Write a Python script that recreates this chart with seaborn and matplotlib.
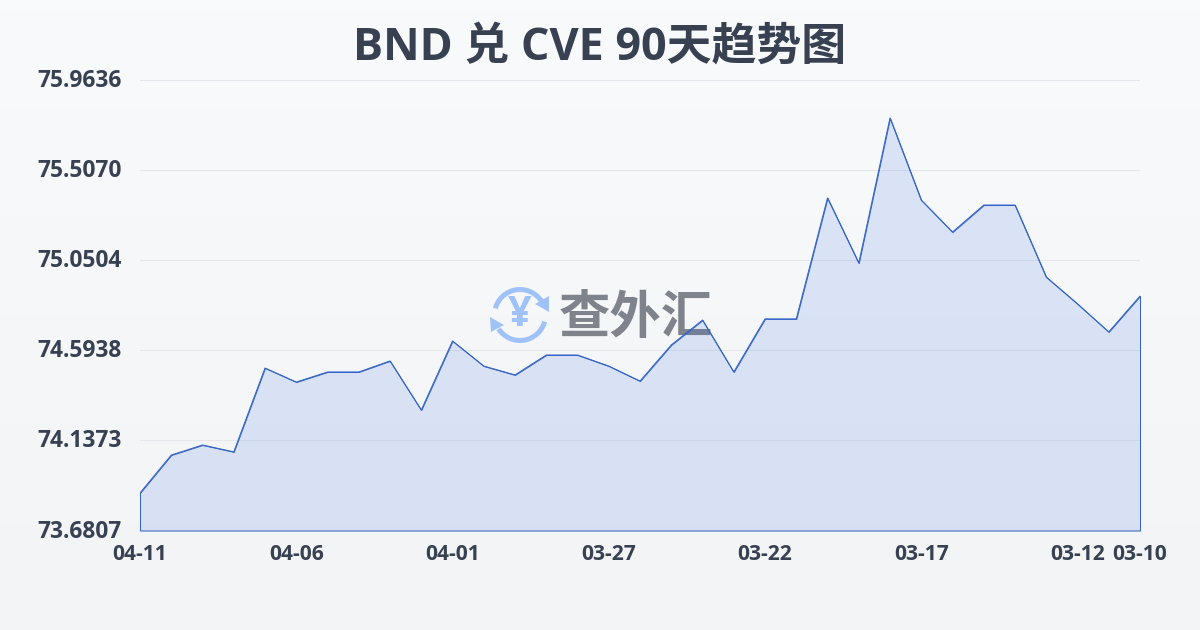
import numpy as np
import matplotlib
matplotlib.use("Agg")
import matplotlib.pyplot as plt
from matplotlib.patches import Arc, Polygon
from matplotlib.transforms import ScaledTranslation
import seaborn as sns

title = "BND 兑 CVE 90天趋势图"
values = [73.871, 74.063, 74.114, 74.079, 74.504, 74.433, 74.484, 74.484, 74.540, 74.291,
          74.641, 74.514, 74.469, 74.570, 74.570, 74.514, 74.438, 74.621, 74.747, 74.484,
          74.753, 74.753, 75.366, 75.036, 75.771, 75.355, 75.193, 75.330, 75.330, 74.965,
          74.829, 74.687, 74.869]
days = list(range(len(values)))
x_tick_days = [0, 5, 10, 15, 20, 25, 30, 32]
x_tick_labels = ["04-11", "04-06", "04-01", "03-27", "03-22", "03-17", "03-12", "03-10"]
y_ticks = [73.6807, 74.1373, 74.5938, 75.0504, 75.5070, 75.9636]
y_tick_labels = ["73.6807", "74.1373", "74.5938", "75.0504", "75.5070", "75.9636"]

sns.set_theme(style="white")
plt.rcParams['font.family'] = ['Open Sans', 'Noto Sans CJK SC', 'DejaVu Sans']

INK = "#374151"
LINE = "#3565c6"
W, H = 1200, 630
fig = plt.figure(figsize=(12, 6.3), dpi=100)

# background gradient
bg = fig.add_axes([0, 0, 1, 1], zorder=0)
bg.imshow(np.linspace(0, 1, 64).reshape(-1, 1), aspect="auto", extent=(0, W, 0, H),
          cmap=matplotlib.colors.LinearSegmentedColormap.from_list("bg", ["#f9fafc", "#f3f4f6"]))
bg.axis("off")

# watermark
wm = fig.add_axes([0, 0, 1, 1], zorder=1)
wm.set_xlim(0, W); wm.set_ylim(0, H); wm.axis("off")
BLUE = "#9fc2f9"
cx, cy = 520, H - 315
wm.add_patch(Arc((cx, cy), 51, 51, theta1=33, theta2=165, color=BLUE, lw=3.6))
wm.add_patch(Arc((cx, cy), 51, 51, theta1=213, theta2=345, color=BLUE, lw=3.6))
wm.add_patch(Polygon([(549, H-296), (549, H-312), (535, H-304)], closed=True, color=BLUE, lw=0))
wm.add_patch(Polygon([(490, H-317), (491, H-332), (504, H-325)], closed=True, color=BLUE, lw=0))
wm.text(cx, cy - 1, "¥", fontsize=30, fontweight="bold", color=BLUE, ha="center", va="center",
        family=['Open Sans'])
wm.text(636, H - 318, "查外汇", fontsize=37, fontweight="black", color="#7f838c", ha="center",
        va="center", family=['Noto Sans CJK SC'])

# main chart
ax = fig.add_axes([140/W, 1 - 530.5/H, 1000/W, 450.5/H], zorder=2)
ax.patch.set_alpha(0)
ax.fill_between(days, values, y_ticks[0], facecolor=matplotlib.colors.to_rgba("#3a70e0", 0.15),
                edgecolor=LINE, linewidth=0.75, clip_on=False, zorder=2)
sns.lineplot(x=days, y=values, ax=ax, color=LINE, linewidth=0.75, zorder=3)
ax.set_xlim(days[0], days[-1])
ax.set_ylim(y_ticks[0], y_ticks[-1])
ax.set_xlabel(""); ax.set_ylabel("")
ax.set_xticks(x_tick_days, x_tick_labels)
ax.set_yticks(y_ticks, y_tick_labels)
ax.grid(axis="y", color="#e4e7ec", linewidth=0.8)
ax.set_axisbelow(True)
for s in ax.spines.values():
    s.set_visible(False)
ax.tick_params(axis="x", length=7.5, width=0.8, color="#e4e7ec", pad=2.5, labelsize=15.1, labelcolor=INK)
ax.tick_params(axis="y", length=0, pad=13, labelsize=16.4, labelcolor=INK)
for lab in ax.get_xticklabels() + ax.get_yticklabels():
    lab.set_fontweight("bold")
shift_up = ScaledTranslation(0, 2/100, fig.dpi_scale_trans)
for lab in ax.get_yticklabels():
    lab.set_transform(lab.get_transform() + shift_up)

fig.text(600/W, 1 - 48/H, title, fontsize=32.3, fontweight="bold", color=INK, ha="center", va="center")

fig.savefig("out.png", dpi=100)
